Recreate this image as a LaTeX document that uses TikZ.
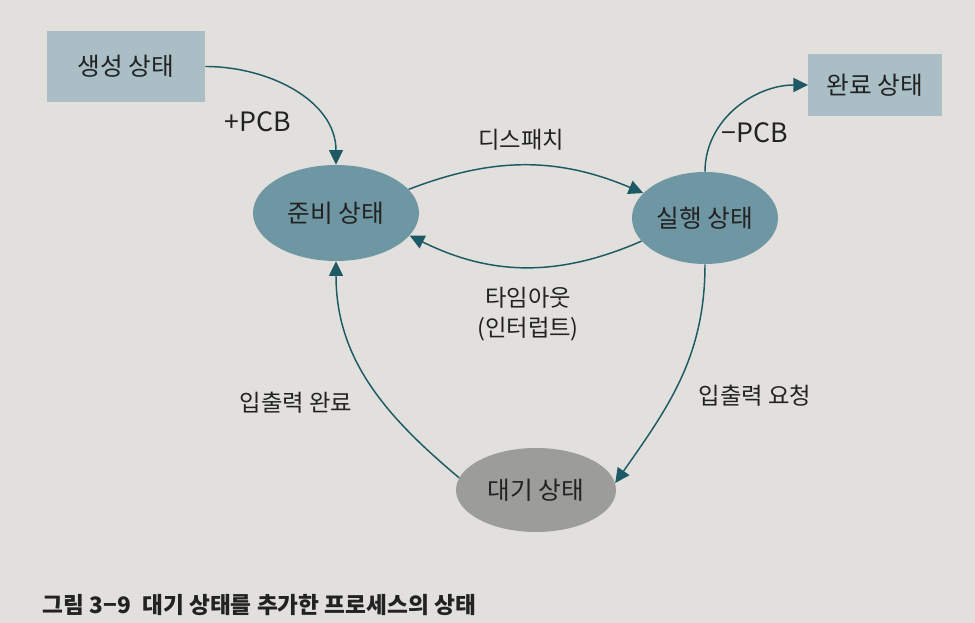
\documentclass[tikz,border=0pt]{standalone}
\usepackage{fontspec}
\setmainfont{Noto Sans CJK KR}
\usetikzlibrary{shapes.geometric,arrows.meta}
\definecolor{paper}{HTML}{E2E0DC}
\definecolor{boxfill}{HTML}{A9BEC5}
\definecolor{ellfill}{HTML}{6F96A3}
\definecolor{waitfill}{HTML}{9C9C9A}
\definecolor{linecol}{HTML}{1E5A66}
\definecolor{textcol}{HTML}{222222}
\tikzset{
  statebox/.style={rectangle, fill=boxfill, inner sep=0pt, font=\fontsize{18.5}{20}\selectfont, text=textcol},
  stateell/.style={ellipse, fill=ellfill, inner sep=0pt, font=\fontsize{18.5}{20}\selectfont, text=textcol},
  lbl/.style={font=\fontsize{17.5}{22}\selectfont, text=textcol, align=center},
  pcb/.style={font=\fontsize{20}{22}\selectfont, text=textcol},
  conn/.style={draw=linecol, line width=1.1pt, -{Triangle[length=11pt,width=10.5pt]}, fill=none}
}
\begin{document}
\begin{tikzpicture}[x=0.75pt,y=0.75pt]
  \fill[paper] (0,0) rectangle (975,623);
  \useasboundingbox (0,0) rectangle (975,623);
  % nodes
  \node[statebox, minimum width=118.5pt, minimum height=53pt] (gen) at (126,556.5) {생성 상태};
  \node[statebox, minimum width=100pt, minimum height=47pt] (done) at (875,538) {완료 상태};
  \node[stateell, minimum width=124.5pt, minimum height=72pt] (ready) at (336,410) {준비 상태};
  \node[stateell, minimum width=109.5pt, minimum height=69pt] (run) at (705,405) {실행 상태};
  \node[stateell, fill=waitfill, minimum width=120pt, minimum height=63pt] (wait) at (536,133) {대기 상태};
  % labels
  \node[pcb] (lpcb) at (258,501) {+PCB};
  \node[lbl] (ldisp) at (521,483) {디스패치};
  \node[pcb] (lmpcb) at (755,490) {−PCB};
  \node[lbl] (ltime) at (528,309) {타임아웃\\(인터럽트)};
  \node[lbl] (lioc) at (296,220) {입출력 완료};
  \node[lbl] (lior) at (755,227) {입출력 요청};
  \node[anchor=west, font=\bfseries\fontsize{17}{20}\selectfont, text=textcol] (cap) at (38,18) {그림 3−9\enspace 대기 상태를 추가한 프로세스의 상태};
  % connectors
  \draw[conn] (gen.east) to[out=0, in=90] (ready.north);
  \draw[conn] (ready.18) to[bend left=22] (run.158);
  \draw[conn] (run.200) to[bend left=25] (ready.343);
  \draw[conn] (run.north) to[out=90, in=180] (done.west);
  \draw[conn] (run.south) to[out=-90, in=55] (wait.5);
  \draw[conn] (wait.171) to[out=140, in=-90] (ready.south);
\end{tikzpicture}
\end{document}
